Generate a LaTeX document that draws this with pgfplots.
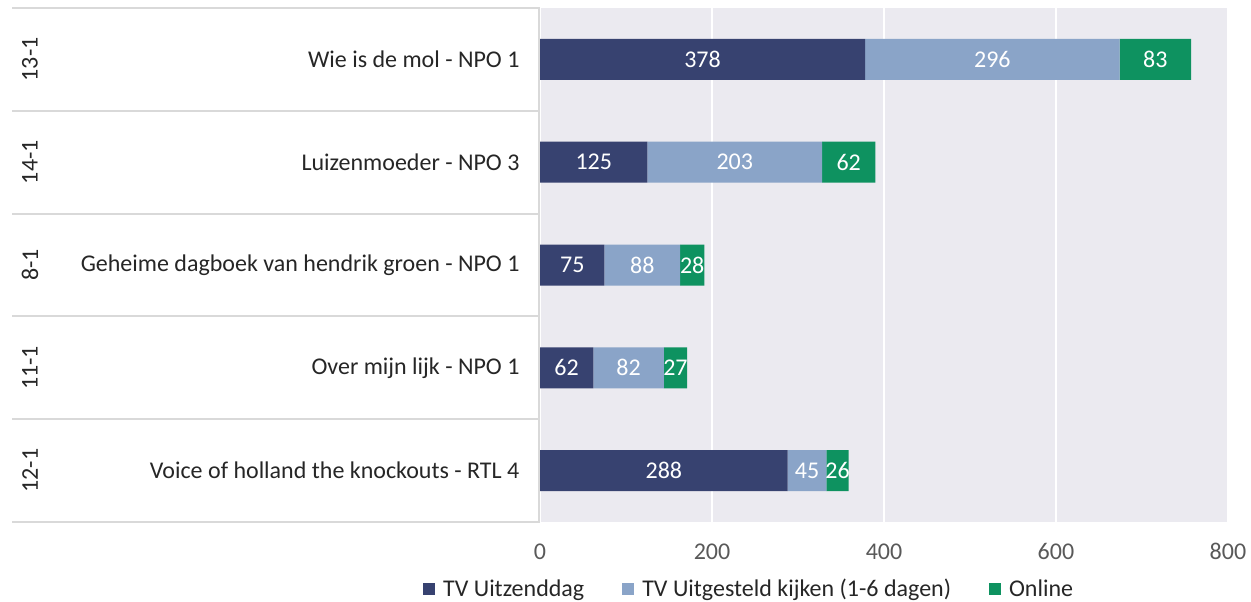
\documentclass[border=0pt]{standalone}
\usepackage{fontspec}
\setmainfont{Carlito}
\usepackage{pgfplots}
\usepackage{pgfplotstable}
\pgfplotsset{compat=1.18}
\definecolor{cdark}{HTML}{374270}
\definecolor{clight}{HTML}{8AA4C8}
\definecolor{cgreen}{HTML}{0E9260}
\definecolor{cbg}{HTML}{EBEAF0}
\definecolor{cline}{HTML}{D9D9D9}
\definecolor{ctick}{HTML}{595959}
\definecolor{ctext}{HTML}{262626}
\pgfplotstableread{
idx a b c
0 378 296 83
1 125 203 62
2 75 88 28
3 62 82 27
4 288 45 26
}\data
\newcommand{\fs}{\fontsize{24}{28}\selectfont}
\begin{document}
\begin{tikzpicture}
\useasboundingbox (0,0) rectangle (1251pt,602pt);
% label table lines
\foreach \yy in {594,491.2,388.4,285.6,182.8,80}{
  \draw[cline, line width=2pt] (12pt,\yy pt) -- (540pt,\yy pt);
}
\begin{axis}[
  at={(540pt,80pt)}, anchor=south west,
  width=688pt, height=514pt, scale only axis,
  xbar stacked, bar width=41pt,
  xmin=0, xmax=800, ymin=-0.5, ymax=4.5, y dir=reverse,
  ytick={0,1,2,3,4},
  yticklabels={Wie is de mol - NPO 1, Luizenmoeder - NPO 3, Geheime dagboek van hendrik groen - NPO 1, Over mijn lijk - NPO 1, Voice of holland the knockouts - RTL 4},
  xtick={0,200,400,600,800},
  axis background/.style={fill=cbg},
  axis line style={draw=none},
  major tick length=0pt,
  xmajorgrids, grid style={white, line width=2pt},
  tick label style={font=\fs},
  xticklabel style={text=ctick, yshift=-18pt},
  yticklabel style={text=ctext, xshift=-17pt},
  /pgf/number format/assume math mode=true,
  point meta=explicit,
  nodes near coords,
  nodes near coords style={font=\fs, text=white, anchor=center},
  legend columns=3,
  legend style={at={(0.304,-0.13)}, anchor=center, draw=none, fill=none, font=\fs, text=ctext,
    /tikz/every odd column/.append style={column sep=6pt},
    /tikz/every even column/.append style={column sep=36pt}},
  legend image code/.code={\fill[#1] (0pt,-6pt) rectangle (12pt,6pt);},
  clip=false,
]
\addplot[fill=cdark, draw=none] table[x=a, y=idx, meta=a] {\data};
\addplot[fill=clight, draw=none] table[x=b, y=idx, meta=b] {\data};
\addplot[fill=cgreen, draw=none] table[x=c, y=idx, meta=c] {\data};
\legend{TV Uitzenddag, TV Uitgesteld kijken (1-6 dagen), Online}
\end{axis}
\draw[cline, line width=2pt] (539pt,80pt) -- (539pt,594pt);
\foreach \lab/\yy in {13-1/542.6, 14-1/439.8, 8-1/337, 11-1/234.2, 12-1/131.4}{
  \node[rotate=90, font=\fs, text=ctext] at (30pt,\yy pt) {\lab};
}
\end{tikzpicture}
\end{document}
